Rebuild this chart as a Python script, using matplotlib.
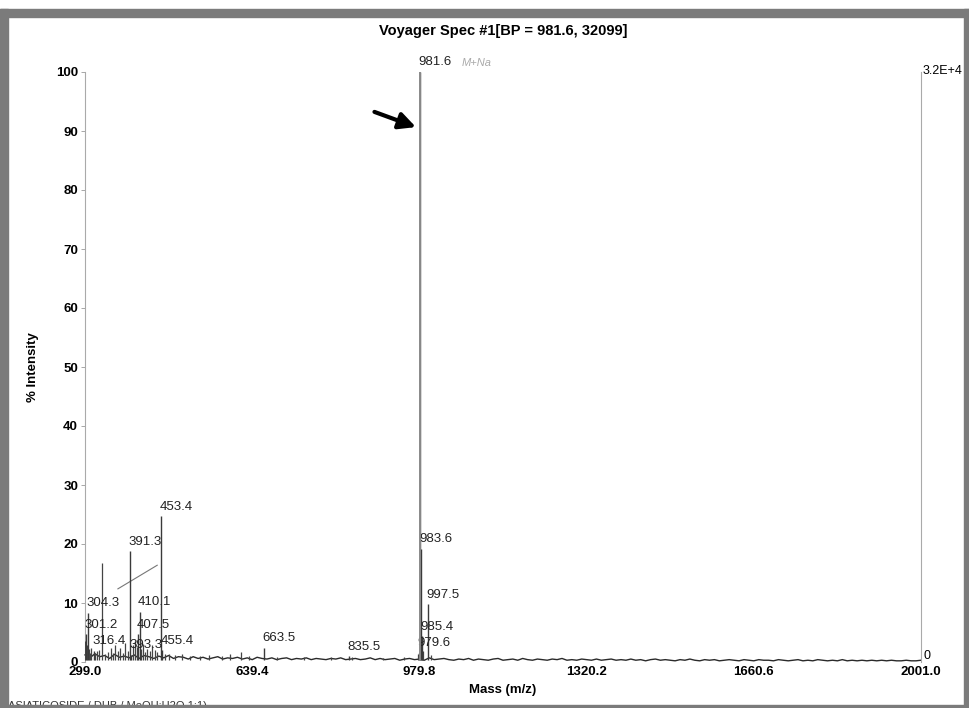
import numpy as np
import matplotlib.pyplot as plt
from matplotlib.patches import Rectangle

plt.rcParams['font.family'] = ['Liberation Sans', 'DejaVu Sans']

# labelled peaks (m/z, % intensity)
peak_mz = [301.2, 304.3, 316.4, 391.3, 393.3, 407.5, 410.1, 453.4, 455.4,
           663.5, 835.5, 979.6, 981.6, 983.6, 985.4, 997.5]
peak_int = [4.7, 8.3, 1.9, 18.8, 1.2, 4.7, 8.5, 24.7, 2.0,
            2.4, 1.0, 1.6, 100.0, 19.2, 4.4, 9.8]
peak_labels = ['301.2', '304.3', '316.4', '391.3', '393.3', '407.5', '410.1', '453.4', '455.4',
               '663.5', '835.5', '979.6', '981.6', '983.6', '985.4', '997.5']

# unlabelled peaks
minor_mz = [300.0, 302.5, 306.5, 309.0, 312.0, 319.0, 323.0, 327.0, 333.0, 340.0,
            346.0, 351.0, 356.0, 361.0, 366.0, 371.0, 376.0, 381.0, 386.0, 397.0,
            400.5, 404.0, 413.0, 417.0, 421.0, 426.0, 431.0, 436.0, 441.0, 446.0,
            461.0, 470.0, 483.0, 497.0, 512.0, 534.0, 552.0, 578.0, 595.0, 617.0,
            632.0, 690.0, 745.0, 800.0, 842.0, 905.0, 948.0, 976.0, 988.0, 1003.0]
minor_int = [3.5, 2.8, 2.2, 1.6, 2.4, 1.5, 1.8, 2.0, 16.8, 1.4,
             1.7, 2.3, 1.6, 2.9, 1.8, 2.4, 1.5, 3.2, 1.9, 2.8,
             3.6, 2.6, 2.2, 3.0, 1.7, 2.2, 1.9, 2.8, 2.0, 1.7,
             1.4, 1.3, 1.2, 1.4, 1.0, 1.1, 1.2, 1.0, 1.3, 1.7,
             1.1, 0.9, 0.8, 0.9, 0.9, 0.7, 0.8, 1.3, 1.8, 1.2]

# noise floor (% intensity), one reading per ~10 m/z from 299 to 2001
floor_int = [
    1.2, 0.7, 1.4, 0.9, 1.1, 0.6, 1.3, 0.8, 1.0, 0.7, 1.2, 0.6, 1.1, 0.9, 0.6, 1.0, 0.7, 1.1, 0.6, 0.9,
    0.8, 0.5, 0.9, 0.6, 0.8, 0.5, 0.7, 0.9, 0.5, 0.7, 0.6, 0.8, 0.5, 0.7, 0.4, 0.8, 0.6, 0.5, 0.7, 0.4,
    0.6, 0.7, 0.4, 0.6, 0.5, 0.7, 0.4, 0.6, 0.5, 0.4, 0.6, 0.5, 0.7, 0.4, 0.5, 0.6, 0.4, 0.5, 0.7, 0.4,
    0.6, 0.4, 0.5, 0.6, 0.3, 0.5, 0.6, 0.4, 0.5, 0.3, 0.7, 0.4, 0.5, 0.6, 0.4, 0.3, 0.5, 0.4, 0.6, 0.3,
    0.5, 0.4, 0.3, 0.5, 0.6, 0.3, 0.4, 0.5, 0.3, 0.6, 0.4, 0.3, 0.5, 0.4, 0.3, 0.5, 0.4, 0.6, 0.3, 0.4,
    0.3, 0.5, 0.4, 0.3, 0.5, 0.3, 0.4, 0.5, 0.3, 0.4, 0.3, 0.5, 0.3, 0.4, 0.2, 0.4, 0.5, 0.3, 0.4, 0.3,
    0.2, 0.4, 0.3, 0.5, 0.3, 0.2, 0.4, 0.3, 0.4, 0.2, 0.3, 0.4, 0.3, 0.2, 0.4, 0.3, 0.2, 0.4, 0.3, 0.3,
    0.2, 0.4, 0.3, 0.2, 0.3, 0.4, 0.2, 0.3, 0.2, 0.4, 0.3, 0.2, 0.3, 0.2, 0.4, 0.2, 0.3, 0.2, 0.3, 0.2,
    0.3, 0.2, 0.3, 0.2, 0.3, 0.2, 0.2, 0.3, 0.2, 0.2, 0.3]

x_ticks = [299.0, 639.4, 979.8, 1320.2, 1660.6, 2001.0]
y_ticks = [0, 10, 20, 30, 40, 50, 60, 70, 80, 90, 100]

fig = plt.figure(figsize=(9.69, 7.08), dpi=100)
ax = fig.add_axes([85 / 969, 1 - 662 / 708, 836 / 969, 590 / 708])

# noise trace
floor_mz = np.linspace(x_ticks[0], x_ticks[-1], len(floor_int))
ax.plot(floor_mz, floor_int, color='#2a2a2a', lw=1.0, clip_on=False, zorder=2)

# peak sticks
ax.vlines(minor_mz, 0.3, minor_int, color='#444444', lw=0.9, zorder=3)
ax.vlines(peak_mz, 0.3, peak_int, color='#3a3a3a', lw=1.0, zorder=3)
base_idx = peak_labels.index('981.6')
ax.vlines([peak_mz[base_idx]], 0.3, [peak_int[base_idx]], color='#8a8a8a', lw=1.4, zorder=4)

for mz, h, lab in zip(peak_mz, peak_int, peak_labels):
    ax.text(mz - 3, h + 0.6, lab, fontsize=9.5, ha='left', va='bottom', color='#222222')

ax.set_xlim(x_ticks[0], x_ticks[-1])
ax.set_ylim(0, 100)
ax.set_xticks(x_ticks)
ax.set_xticklabels([f'{v:.1f}' for v in x_ticks], fontsize=9.5, fontweight='bold')
ax.set_yticks(y_ticks)
ax.set_yticklabels([str(v) for v in y_ticks], fontsize=9.5, fontweight='bold')
ax.tick_params(axis='x', length=0, pad=3)
ax.tick_params(axis='y', length=3, width=0.6, color='#999999', pad=2)

for side in ['top', 'bottom']:
    ax.spines[side].set_visible(False)
ax.spines['left'].set_color('#aaaaaa')
ax.spines['left'].set_linewidth(0.8)
ax.spines['right'].set_color('#aaaaaa')
ax.spines['right'].set_linewidth(0.8)

ax.set_xlabel('Mass (m/z)', fontsize=9.5, fontweight='bold', labelpad=4)
ax.set_ylabel('% Intensity', fontsize=9.5, fontweight='bold', labelpad=12)
ax.set_title('Voyager Spec #1[BP = 981.6, 32099]', fontsize=10.5, fontweight='bold', pad=27)

# right-hand absolute scale
ax.text(1.002, 1.002, '3.2E+4', transform=ax.transAxes, fontsize=9, ha='left', va='center')
ax.text(1.003, 0.0, '0', transform=ax.transAxes, fontsize=9, ha='left', va='bottom')

# pen marks on the printout
ax.annotate('', xy=(978, 90.5), xytext=(883, 93.4),
            arrowprops=dict(arrowstyle='-|>,head_length=1.0,head_width=0.5', color='black', lw=3))
ax.plot([366, 446], [12.4, 16.4], color='#777777', lw=0.8)
ax.text(1066, 100.6, 'M+Na', fontsize=8, color='#aaaaaa', style='italic', ha='left', va='bottom',
        clip_on=False)

fig.text(8 / 969, -3 / 708, 'ASIATICOSIDE / DHB / MeOH:H2O 1:1)', fontsize=8, color='#333333',
         ha='left', va='bottom')

# scanner frame
frame = '#7b7b7b'
fig.patches.extend([
    Rectangle((0, 1 - 17 / 708), 1, 8 / 708, transform=fig.transFigure, color=frame, zorder=10),
    Rectangle((0, 0), 8 / 969, 1 - 9 / 708, transform=fig.transFigure, color=frame, zorder=10),
    Rectangle((964 / 969, 0), 5 / 969, 1 - 9 / 708, transform=fig.transFigure, color=frame, zorder=10),
    Rectangle((0, 0), 1, 3 / 708, transform=fig.transFigure, color=frame, zorder=10),
])

fig.savefig('out.png', dpi=100)
